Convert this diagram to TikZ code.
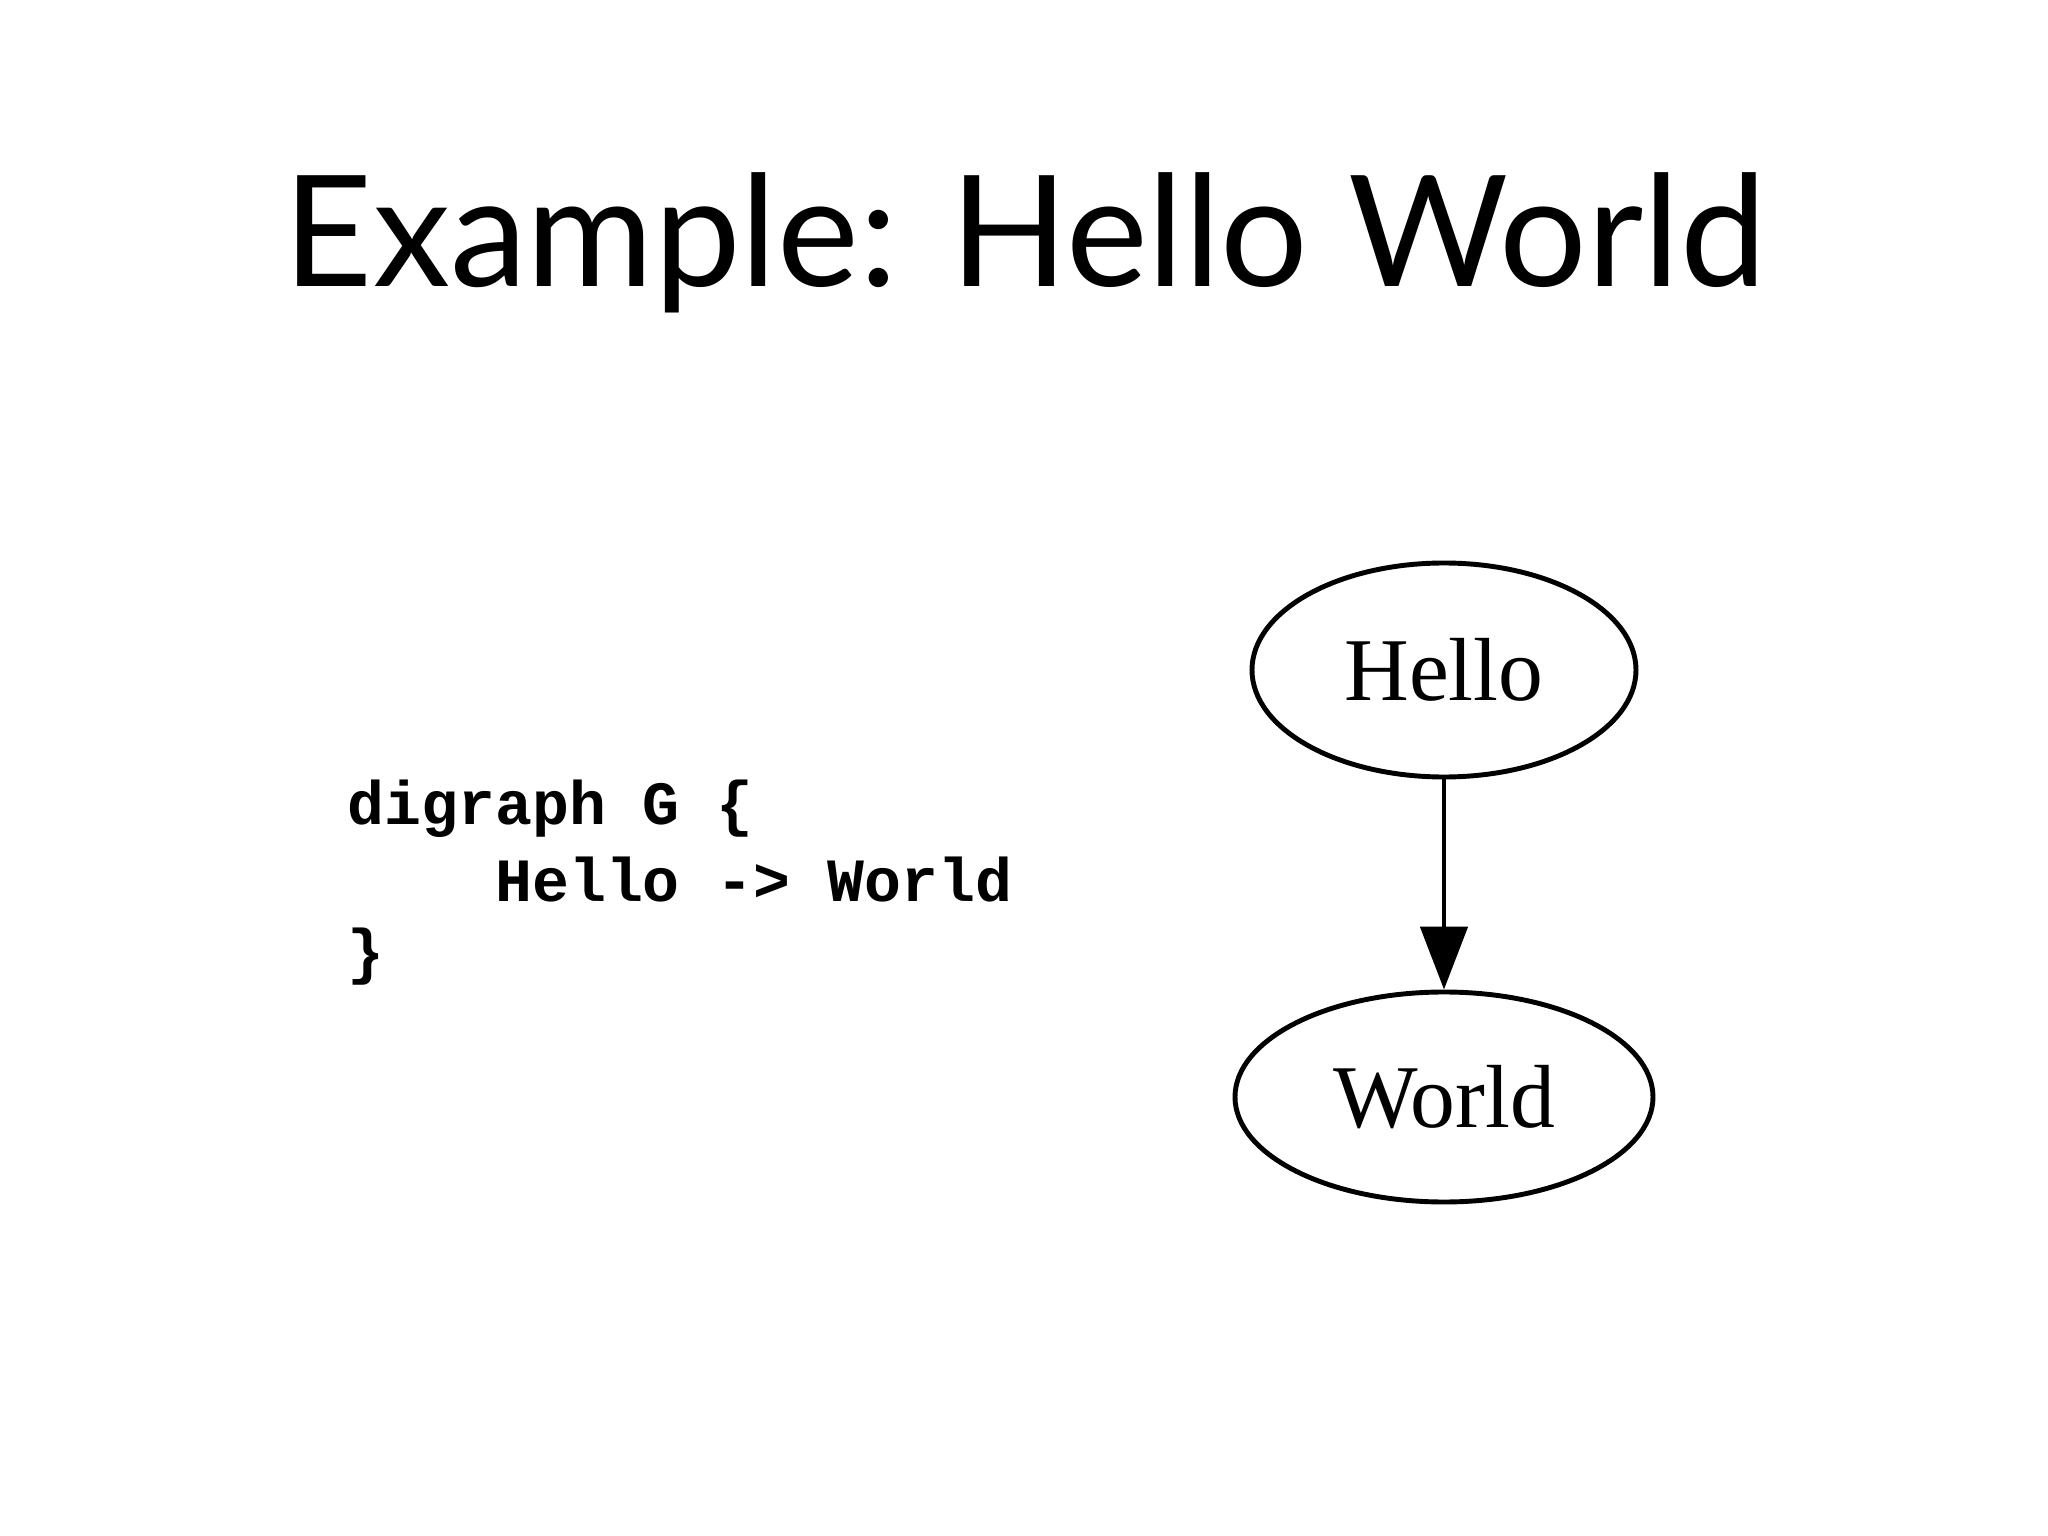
\documentclass[tikz,border=0pt]{standalone}
\usepackage{fontspec}
\setmainfont{Liberation Serif}
\newfontfamily\titlefont{Lato}
\newfontfamily\codefont{Liberation Mono}
\usetikzlibrary{shapes.geometric,arrows.meta}
\tikzset{gnode/.style={draw,line width=1.4pt,ellipse,inner sep=0pt,font=\fontsize{25.5}{28}\selectfont},
codeline/.style={anchor=base west,inner sep=0pt,font=\codefont\bfseries\fontsize{17.5}{21}\selectfont}}
\begin{document}
\begin{tikzpicture}
\useasboundingbox (0,0) rectangle (20.48,-15.36);
\node[anchor=base,inner sep=0pt,font=\titlefont\fontsize{44}{50}\selectfont] (title) at (10.25,-2.87) {Example: Hello World};
\node[codeline] (c1) at (3.47,-8.25) {digraph G \{};
\node[codeline] (c2) at (3.47,-9.01) {\ \ \ \ Hello -> World};
\node[codeline] (c3) at (3.47,-9.73) {\}};
\node[gnode,minimum width=3.84cm,minimum height=2.14cm] (h) at (14.44,-6.70) {Hello};
\node[gnode,minimum width=4.18cm,minimum height=2.10cm] (w) at (14.44,-10.97) {World};
\draw[line width=1.4pt,-{Triangle[length=0.63cm,width=0.47cm]}] (h) -- (w);
\end{tikzpicture}
\end{document}
